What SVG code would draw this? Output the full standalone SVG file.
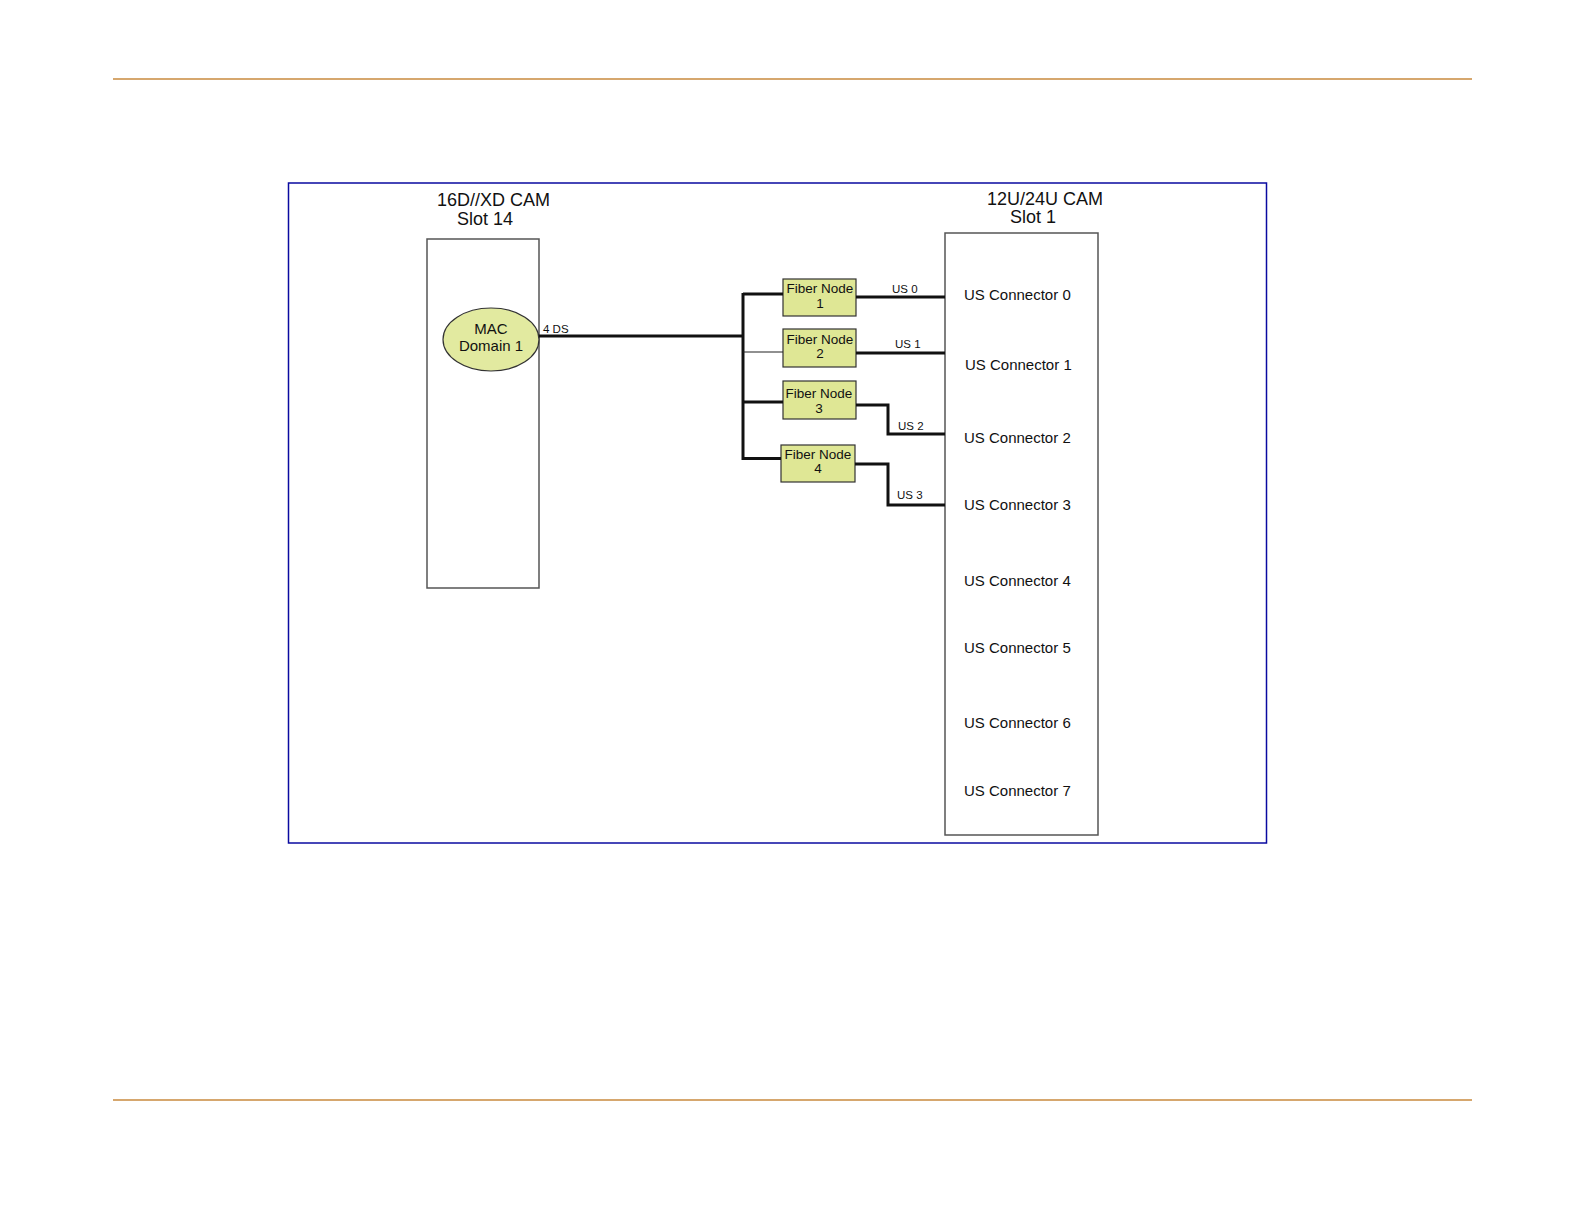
<svg xmlns="http://www.w3.org/2000/svg" width="1584" height="1224" viewBox="0 0 1584 1224">
<style>
text{font-family:"Liberation Sans",Arial,sans-serif;fill:#111}
.title{font-size:18px}
.conn{font-size:15px}
.fn{font-size:13.5px;text-anchor:middle}
.lbl{font-size:11.5px}
.box{fill:#fff;stroke:#555;stroke-width:1.5}
.fnbox{fill:#dfe795;stroke:#333;stroke-width:1.2}
.thick{fill:none;stroke:#111;stroke-width:3}
.thin{fill:none;stroke:#222;stroke-width:1.2}
</style>
<rect width="1584" height="1224" fill="#fff"/>
<line x1="113" y1="79" x2="1472" y2="79" stroke="#c98a3e" stroke-width="1.5"/>
<line x1="113" y1="1100" x2="1472" y2="1100" stroke="#c98a3e" stroke-width="1.5"/>
<rect x="288.5" y="183" width="978" height="660" fill="none" stroke="#0a0aa0" stroke-width="1.5"/>

<g id="cam-left">
<text class="title" x="437" y="206">16D//XD CAM</text>
<text class="title" x="457" y="225">Slot 14</text>
<rect class="box" x="427" y="239" width="112" height="349"/>
</g>
<g id="mac-domain">
<ellipse cx="491" cy="339.5" rx="48" ry="31.5" fill="#e2eaa0" stroke="#333" stroke-width="1.2"/>
<text class="conn" x="491" y="334" text-anchor="middle">MAC</text>
<text class="conn" x="491" y="351" text-anchor="middle">Domain 1</text>
</g>

<g id="cam-right">
<text class="title" x="987" y="205">12U/24U CAM</text>
<text class="title" x="1010" y="223">Slot 1</text>
<rect class="box" x="945" y="233" width="153" height="602"/>
<text class="conn" x="964" y="300">US Connector 0</text>
<text class="conn" x="965" y="370">US Connector 1</text>
<text class="conn" x="964" y="443">US Connector 2</text>
<text class="conn" x="964" y="510">US Connector 3</text>
<text class="conn" x="964" y="586">US Connector 4</text>
<text class="conn" x="964" y="653">US Connector 5</text>
<text class="conn" x="964" y="728">US Connector 6</text>
<text class="conn" x="964" y="796">US Connector 7</text>
</g>

<g id="fiber-node-1">
<rect class="fnbox" x="783" y="279" width="73" height="37"/>
<text class="fn" x="820" y="293">Fiber Node</text>
<text class="fn" x="820" y="308">1</text>
</g>
<g id="fiber-node-2">
<rect class="fnbox" x="783" y="329" width="73" height="38"/>
<text class="fn" x="820" y="344">Fiber Node</text>
<text class="fn" x="820" y="358">2</text>
</g>
<g id="fiber-node-3">
<rect class="fnbox" x="783" y="381" width="73" height="38"/>
<text class="fn" x="819" y="398">Fiber Node</text>
<text class="fn" x="819" y="413">3</text>
</g>
<g id="fiber-node-4">
<rect class="fnbox" x="781" y="445" width="74" height="37"/>
<text class="fn" x="818" y="459">Fiber Node</text>
<text class="fn" x="818" y="473">4</text>
</g>

<g id="connectors">
<line class="thick" x1="539" y1="336" x2="743" y2="336" stroke-width="2.5"/>
<line class="thick" x1="743" y1="293" x2="743" y2="460"/>
<line class="thick" x1="743" y1="294" x2="783" y2="294"/>
<line class="thin" x1="743" y1="352" x2="783" y2="352"/>
<line class="thick" x1="743" y1="402" x2="783" y2="402"/>
<line class="thick" x1="743" y1="458.5" x2="781" y2="458.5"/>
<line class="thick" x1="856" y1="297" x2="945" y2="297"/>
<line class="thick" x1="856" y1="353" x2="945" y2="353"/>
<polyline class="thick" points="856,405 888,405 888,434 945,434"/>
<polyline class="thick" points="855,464 888,464 888,505 945,505"/>
<text class="lbl" x="543" y="333">4 DS</text>
<text class="lbl" x="892" y="293">US 0</text>
<text class="lbl" x="895" y="348">US 1</text>
<text class="lbl" x="898" y="430">US 2</text>
<text class="lbl" x="897" y="499">US 3</text>
</g>
</svg>
